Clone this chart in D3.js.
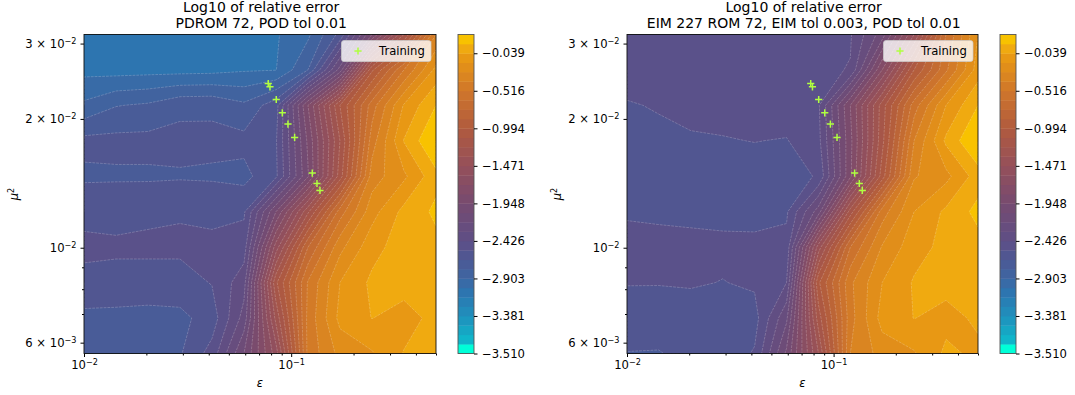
<!DOCTYPE html>
<html><head><meta charset="utf-8">
<script src="https://d3js.org/d3.v7.min.js"></script>
<style>
html,body{margin:0;padding:0;background:#fff}
svg{display:block}
text{font-family:"DejaVu Sans",sans-serif;fill:#000}
</style></head><body><svg id="c" width="1075" height="395"></svg>
<script>
// grid of the parameter sweep
const epsGrid=[0.01,0.01427,0.02036,0.02906,0.04146,0.05917,0.08444,0.1205,0.1719,0.2453,0.3501,0.5];
const muGrid=[0.0315,0.02604,0.02152,0.01778,0.01469,0.01214,0.01003,0.00829,0.00685,0.00566];
// error field read against the colourbar: position in colourbar level steps (0 = -3.381, 4 = -2.903, 8 = -2.426 ...)
const errorPdrom=[
[2.5,2.5,2.5,2.5,2.45,2.5,2.9,3.8,6.3,12,18,25],
[2.7,2.6,2.65,2.65,2.7,2.9,2.97,5.0,10.4,19.8,24,27.3],
[4.2,4.95,5.15,5.75,5.8,5.2,6.6,13,19,23.5,27.1,29],
[6.3,6.3,6.3,6.3,6.25,6.3,6.9,12.2,18,24.5,28.05,30.1],
[5.8,5.85,5.85,5.9,5.85,5.7,6.8,11.9,18.5,25.5,26.8,28.7],
[6.9,6.8,6.85,6.9,6.9,6.85,12,17.8,23.5,26.6,28.3,29.2],
[7.08,7.1,7.15,7.2,7.1,7.5,15.5,22,25.7,27.65,28.5,28.7],
[6.9,6.8,6.7,6.6,7.05,8.6,18.8,24.1,27,28.2,28.4,28.7],
[5.67,5.65,5.6,5.74,6.45,9.4,17.3,24.3,27.3,28.02,27.6,28.3],
[5.5,5.5,5.4,5.9,7.4,11,15.5,24.3,26.3,26.9,28.05,28.4]];
const errorEim=[
[7.5,7.5,7.5,7.5,7.55,7.6,7.75,7.9,10.5,16,23,27],
[7.6,7.5,7.5,7.5,7.55,7.7,7.8,8.05,14,20,23.8,27.5],
[6.9,7.1,7.25,7.3,7.4,7.5,7.85,13,18.5,23.5,27,29],
[6.7,6.7,6.9,6.95,7.02,6.95,7.7,12.7,18.7,25,28.2,30.1],
[6.6,6.55,6.6,6.6,6.6,6.55,7.1,12.8,19.5,25.9,26.7,28.5],
[6.9,6.8,6.75,6.7,6.8,6.85,10.5,18.5,24.5,27,28.2,29.3],
[7.3,7.35,7.3,7.25,7.15,7.3,16.5,23,26.1,27.6,28.3,28.6],
[7.05,7.05,7.1,6.97,7.15,8,19.8,24.8,27,28.1,28.3,28.5],
[6.5,6.45,6.5,6.5,6.6,9.8,18.5,24.6,27.4,28.02,27.7,28.16],
[5.97,5.95,6.3,6.35,7.1,11.2,17,25,26.4,26.9,28.2,27.8]];
const trainEps=[0.0775,0.0790,0.0847,0.0906,0.0965,0.1039,0.1264,0.1332,0.1377];
const trainMu=[0.02420,0.02377,0.02220,0.02067,0.01945,0.01810,0.01494,0.01413,0.01361];
const levelSteps=d3.range(-4,30);
const cbarTicks=[-3.510,-3.381,-2.903,-2.426,-1.948,-1.471,-0.994,-0.516,-0.039];
const cbarTickSteps=[-4,0,4,8,12,16,20,24,28];
const colorStopAt=[-3.5,-2.5,0,2.5,4,6,8,12,16,20,24,27.5,28.5,29.5];
const colorStops=["#00ffd8","#10b5ca","#1f90bc","#2d75b0","#3d66a2","#4d5895","#5e4f86","#764a70","#95505a","#b05a3e","#d0762a","#e89814","#f0aa10","#f8c200"];
const titles1=["Log10 of relative error","Log10 of relative error"];
const titles2=["PDROM 72, POD tol 0.01","EIM 227 ROM 72, EIM tol 0.003, POD tol 0.01"];
const xMajor=[0.01,0.1], xMinor=[0.02,0.03,0.04,0.05,0.06,0.07,0.08,0.09,0.2,0.3,0.4,0.5];
const yMajor=[0.006,0.01,0.02,0.03], yMinor=[0.007,0.008,0.009];

const color=d3.scaleLinear().domain(colorStopAt).range(colorStops);
const svg=d3.select("#c");
const TOP=34.5,BOT=353.5,FS=11.6,TFS=14;
const MINUS="\u2212";

function sup(sel,parts){
  sel.text(null);
  parts.forEach(([t,s],i)=>{
    const prev=i>0&&parts[i-1][1];
    sel.append("tspan").text(t)
      .attr("font-size",s?FS*0.7:null)
      .attr("dy",s?-FS*0.36:(prev?FS*0.36:null));
  });
}
function panel(L,R,grid,idx,cbX){
  const x=d3.scaleLog().domain([0.01,0.5]).range([L,R]);
  const y=d3.scaleLog().domain([0.00566,0.0315]).range([BOT,TOP]);
  const ix=d3.scaleLinear().domain(d3.range(epsGrid.length)).range(epsGrid.map(x));
  const iy=d3.scaleLinear().domain(d3.range(muGrid.length)).range(muGrid.map(y));
  const nx=epsGrid.length,ny=muGrid.length;
  const cid="clip"+idx;
  svg.append("clipPath").attr("id",cid).append("rect").attr("x",L).attr("y",TOP).attr("width",R-L).attr("height",BOT-TOP);
  const g=svg.append("g").attr("clip-path",`url(#${cid})`);
  g.append("rect").attr("x",L).attr("y",TOP).attr("width",R-L).attr("height",BOT-TOP).attr("fill",color(levelSteps[0]+0.5));
  const cont=d3.contours().size([nx,ny]).thresholds(levelSteps.slice(1))(grid.flat());
  const pt=p=>[ix(Math.max(0,Math.min(nx-1,p[0]-0.5))),iy(Math.max(0,Math.min(ny-1,p[1]-0.5)))];
  const lines=[];
  cont.forEach(c=>{
    const rings=[];
    c.coordinates.forEach(poly=>poly.forEach(ring=>rings.push(ring)));
    if(!rings.length)return;
    const d=rings.map(r=>"M"+r.map(p=>pt(p).map(v=>v.toFixed(2)).join(",")).join("L")+"Z").join("");
    g.append("path").attr("d",d).attr("fill",color(c.value+0.5)).attr("fill-rule","evenodd")
      .attr("stroke",color(c.value+0.5)).attr("stroke-width",0.3);
    rings.forEach(r=>{
      let cur="";
      const onEdge=p=>p[0]<=0||p[0]>=nx||p[1]<=0||p[1]>=ny;
      for(let i=0;i<r.length-1;i++){
        const a=r[i],b=r[i+1];
        const skip=onEdge(a)&&onEdge(b);
        if(skip){if(cur){lines.push(cur);cur="";}continue;}
        if(!cur)cur="M"+pt(a).join(",");
        cur+="L"+pt(b).join(",");
      }
      if(cur)lines.push(cur);
    });
  });
  g.append("path").attr("d",lines.join("")).attr("fill","none").attr("stroke","#fff")
    .attr("stroke-width",0.55).attr("stroke-opacity",0.38).attr("stroke-dasharray","2.8 1");
  const plus="M-3.6,0H3.6M0,-3.6V3.6";
  g.append("g").selectAll("path").data(trainEps).join("path")
    .attr("transform",(d,i)=>`translate(${x(d)},${y(trainMu[i])})`)
    .attr("d",plus).attr("fill","none").attr("stroke","#b0ff40").attr("stroke-width",1.5);
  const lg=svg.append("g").attr("transform",`translate(${R-95},${TOP+6})`);
  lg.append("rect").attr("x",0.5).attr("y",0).attr("width",89.5).attr("height",21).attr("rx",2.5)
    .attr("fill","#fff").attr("fill-opacity",0.8).attr("stroke","#ccc").attr("stroke-opacity",0.8).attr("stroke-width",0.9);
  lg.append("path").attr("transform","translate(17,10.5)").attr("d",plus).attr("fill","none").attr("stroke","#b0ff40").attr("stroke-width",1.5);
  lg.append("text").attr("x",38).attr("y",14.3).attr("font-size",FS).text("Training");
  const major=svg.append("g").attr("transform",`translate(0,${BOT})`)
    .call(d3.axisBottom(x).tickValues(xMajor).tickSize(3.5).tickPadding(4).tickFormat(d=>d));
  major.selectAll("text").attr("font-size",FS).each(function(d){
    sup(d3.select(this),[["10",0],[MINUS+Math.round(-Math.log10(d)),1]]);
  });
  svg.append("g").attr("transform",`translate(0,${BOT})`)
    .call(d3.axisBottom(x).tickValues(xMinor).tickSize(2).tickFormat(""));
  const ymaj=svg.append("g").attr("transform",`translate(${L},0)`)
    .call(d3.axisLeft(y).tickValues(yMajor).tickSize(3.5).tickPadding(4).tickFormat(d=>d));
  ymaj.selectAll("text").attr("font-size",FS).each(function(d){
    const e=Math.floor(Math.log10(d)+1e-9), m=Math.round(d/Math.pow(10,e));
    sup(d3.select(this),m===1?[["10",0],[MINUS+(-e),1]]:[[m+" \u00d7 10",0],[MINUS+(-e),1]]);
  });
  svg.append("g").attr("transform",`translate(${L},0)`)
    .call(d3.axisLeft(y).tickValues(yMinor).tickSize(2).tickFormat(""));
  svg.selectAll(".domain").attr("stroke","none");
  svg.append("rect").attr("x",L).attr("y",TOP).attr("width",R-L).attr("height",BOT-TOP).attr("fill","none").attr("stroke","#111").attr("stroke-width",0.9);
  const mid=(L+R)/2;
  svg.append("text").attr("x",mid+1.2).attr("y",12).attr("text-anchor","middle").attr("font-size",TFS).text(titles1[idx]);
  svg.append("text").attr("x",mid+1.2).attr("y",27.5).attr("text-anchor","middle").attr("font-size",TFS).text(titles2[idx]);
  svg.append("text").attr("x",mid).attr("y",387).attr("text-anchor","middle").attr("font-size",FS).attr("font-style","italic").text("\u03b5");
  const yl=svg.append("text").attr("transform",`translate(${L-66},${(TOP+BOT)/2}) rotate(-90)`).attr("text-anchor","middle").attr("font-size",FS).attr("font-style","italic");
  yl.append("tspan").text("\u03bc");
  yl.append("tspan").attr("font-size",FS*0.7).attr("dy",-FS*0.36).attr("font-style","normal").text("2");
  const cw=16;
  const cy=d3.scaleLinear().domain([-4,30]).range([BOT,TOP]);
  svg.append("g").selectAll("rect").data(levelSteps).join("rect")
    .attr("x",cbX).attr("width",cw).attr("y",d=>cy(d+1)).attr("height",d=>cy(d)-cy(d+1)+0.4)
    .attr("fill",d=>color(d+0.5));
  svg.append("rect").attr("x",cbX).attr("y",TOP).attr("width",cw).attr("height",BOT-TOP).attr("fill","none").attr("stroke","#555").attr("stroke-width",0.9);
  const ct=svg.append("g").attr("transform",`translate(${cbX+cw},0)`)
    .call(d3.axisRight(cy).tickValues(cbarTickSteps).tickSize(3.5).tickPadding(4.5)
      .tickFormat(d=>MINUS+Math.abs(cbarTicks[cbarTickSteps.indexOf(d)]).toFixed(3)));
  ct.selectAll("text").attr("font-size",FS);
  ct.select(".domain").attr("stroke","none");
}
panel(84,436,errorPdrom,0,458);
panel(627,978,errorEim,1,1000);
</script></body></html>
